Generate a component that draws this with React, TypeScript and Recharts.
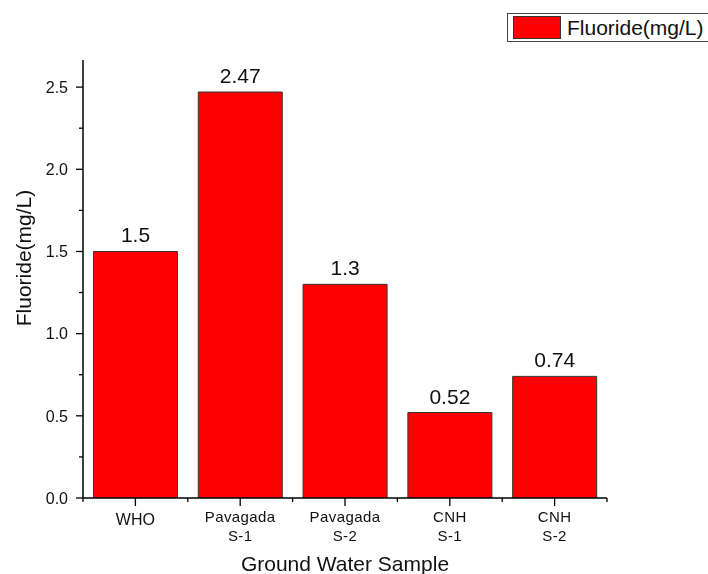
import React from 'react';
import { BarChart, Bar, XAxis, YAxis, LabelList, Legend } from 'recharts';

// values
const categories = ['WHO', 'Pavagada\nS-1', 'Pavagada\nS-2', 'CNH\nS-1', 'CNH\nS-2'];
const fluoride = [1.5, 2.47, 1.3, 0.52, 0.74];
const yTicks = [0, 0.25, 0.5, 0.75, 1, 1.25, 1.5, 1.75, 2, 2.25, 2.5];
const yMajor = [0, 0.5, 1, 1.5, 2, 2.5];
const yMax = 2.665;

const data = categories.map((name, i) => ({ name, fluoride: fluoride[i] }));

const FONT = "Arial, 'Liberation Sans', sans-serif";
const INK = '#111';

const XTick = (props: any) => {
  const { x, y, payload, index, visibleTicksCount } = props;
  const half = payload && payload.offset ? payload.offset : 0;
  const lines = String(payload.value).split('\n');
  return (
    <g>
      <line x1={x} x2={x} y1={y} y2={y + 8} stroke="#000" strokeWidth={1.3} />
      {half > 0 && <line x1={x - half} x2={x - half} y1={y} y2={y + 4} stroke="#000" strokeWidth={1.3} />}
      {half > 0 && index === visibleTicksCount - 1 && (
        <line x1={x + half} x2={x + half} y1={y} y2={y + 4} stroke="#000" strokeWidth={1.3} />
      )}
      {lines.length === 1 ? (
        <text x={x} y={y + 27} textAnchor="middle" fontSize={16} fontFamily={FONT} fill={INK}>
          {lines[0]}
        </text>
      ) : (
        lines.map((l, i) => (
          <text key={i} x={x} y={y + 24 + i * 19} textAnchor="middle" fontSize={15} fontFamily={FONT} fill={INK} letterSpacing={0.4}>
            {l}
          </text>
        ))
      )}
    </g>
  );
};

const YTick = (props: any) => {
  const { x, y, payload } = props;
  const major = yMajor.includes(payload.value);
  return (
    <g>
      <line x1={x - (major ? 7 : 4)} x2={x} y1={y} y2={y} stroke="#000" strokeWidth={1.3} />
      {major && (
        <text x={x - 15} y={y} dy="0.36em" textAnchor="end" fontSize={16} fontFamily={FONT} fill={INK}>
          {payload.value.toFixed(1)}
        </text>
      )}
    </g>
  );
};

const YLabel = (props: any) => {
  const { viewBox } = props;
  const cx = viewBox.x + 23;
  const cy = viewBox.y + viewBox.height / 2 - 21;
  return (
    <text
      x={cx}
      y={cy}
      transform={`rotate(-90, ${cx}, ${cy})`}
      textAnchor="middle"
      dy="0.36em"
      fontSize={21}
      fontFamily={FONT}
      fill={INK}
    >
      Fluoride(mg/L)
    </text>
  );
};

const XLabel = (props: any) => {
  const { viewBox } = props;
  return (
    <text x={viewBox.x + viewBox.width / 2} y={viewBox.y + 73} textAnchor="middle" fontSize={21} fontFamily={FONT} fill={INK}>
      Ground Water Sample
    </text>
  );
};

const LegendBox = () => (
  <div
    style={{
      display: 'flex',
      alignItems: 'center',
      width: 201,
      height: 29,
      boxSizing: 'border-box',
      border: '1px solid #444',
      borderRight: 'none',
      background: '#fff',
      fontFamily: FONT,
      fontSize: 21,
      color: INK,
      whiteSpace: 'nowrap',
    }}
  >
    <span
      style={{
        display: 'inline-block',
        flex: 'none',
        width: 48,
        height: 23,
        marginLeft: 5,
        background: '#ff0000',
        border: '1px solid #333',
        boxSizing: 'border-box',
      }}
    />
    <span style={{ marginLeft: 6, lineHeight: '27px' }}>Fluoride(mg/L)</span>
  </div>
);

export default function App() {
  return (
    <div style={{ position: 'fixed', left: 0, top: 0 }}>
      <BarChart
        width={708}
        height={574}
        data={data}
        margin={{ top: 60, right: 101, bottom: 0, left: 0 }}
        barCategoryGap="10%"
      >
        <XAxis
          dataKey="name"
          height={76}
          interval={0}
          tickSize={0}
          tickMargin={0}
          tickLine={false}
          tick={<XTick />}
          axisLine={{ stroke: '#000', strokeWidth: 1.5 }}
          label={<XLabel />}
        />
        <YAxis
          width={83}
          type="number"
          domain={[0, yMax]}
          ticks={yTicks}
          interval={0}
          tickSize={0}
          tickMargin={0}
          tickLine={false}
          tick={<YTick />}
          axisLine={{ stroke: '#000', strokeWidth: 1.5 }}
          label={<YLabel />}
          allowDataOverflow
        />
        <Legend
          layout="vertical"
          align="center"
          verticalAlign="middle"
          content={<LegendBox />}
          wrapperStyle={{ top: 13, left: 507, width: 201 }}
        />
        <Bar dataKey="fluoride" name="Fluoride(mg/L)" fill="#ff0000" stroke="#333" strokeWidth={1} isAnimationActive={false}>
          <LabelList dataKey="fluoride" position="top" offset={9} fontSize={21} fontFamily={FONT} fill={INK} />
        </Bar>
      </BarChart>
    </div>
  );
}
